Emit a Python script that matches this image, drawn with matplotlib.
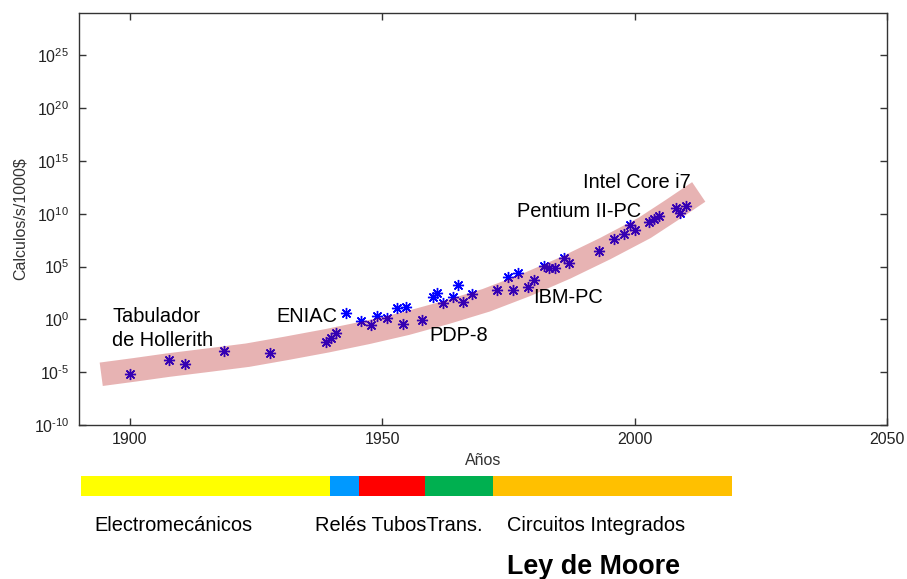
"""Ley de Moore: calculos por segundo por 1000$ a lo largo del tiempo."""

import matplotlib
matplotlib.use("Agg")
import matplotlib.pyplot as plt
import numpy as np

plt.rcParams["font.family"] = ["Liberation Sans", "DejaVu Sans"]
plt.rcParams["mathtext.fontset"] = "custom"
plt.rcParams["mathtext.rm"] = "Liberation Sans"
plt.rcParams["mathtext.it"] = "Liberation Sans:italic"

# machines: year and log10(calculos/s/1000$)
years = [1900, 1907.8, 1910.9, 1918.8, 1927.8, 1938.9, 1939.8, 1940.9, 1942.9,
         1945.8, 1947.9, 1949, 1950.9, 1952.9, 1954.1, 1954.8, 1958, 1960,
         1960.8, 1962, 1964, 1965, 1966, 1967.9, 1972.8, 1974.9, 1976, 1976.9,
         1978.9, 1980, 1982, 1983, 1984.2, 1986.1, 1987, 1993, 1995.9, 1997.9,
         1999.1, 2000.1, 2002.8, 2003.8, 2004.9, 2008.1, 2009, 2010.1]
log_calc = [-5.2, -3.86, -4.24, -3.0, -3.2, -2.1, -1.8, -1.3, 0.6,
            -0.14, -0.5, 0.27, 0.11, 1.1, -0.45, 1.2, -0.1, 2.16,
            2.48, 1.5, 2.16, 3.26, 1.66, 2.38, 2.8, 4.0, 2.8, 4.37,
            3.05, 3.7, 5.06, 4.84, 4.84, 5.82, 5.35, 6.48, 7.64, 8.12,
            8.91, 8.5, 9.25, 9.48, 9.82, 10.5, 10.07, 10.74]

# trend band read along its centre
trend_years = [1894.4, 1901.0, 1907.7, 1915.5, 1923.4, 1931.0, 1939.1, 1947.0,
               1954.8, 1962.7, 1970.6, 1978.5, 1986.3, 1994.2, 2002.0, 2007.4, 2012.7]
trend_log = [-5.2, -4.78, -4.33, -3.87, -3.39, -2.75, -2.03, -1.25,
             -0.39, 0.65, 1.8, 3.25, 4.87, 6.7, 8.66, 10.35, 12.06]

# labels: text, year, log10 of baseline
labels = [("Intel Core i7", 1989.7, 12.47),
          ("Pentium II-PC", 1976.7, 9.70),
          ("IBM-PC", 1980.0, 1.56),
          ("PDP-8", 1959.4, -2.03),
          ("ENIAC", 1929.0, -0.21),
          ("Tabulador", 1896.6, -0.21),
          ("de Hollerith", 1896.6, -2.57)]

# technology eras
era_edges = [1890.4, 1939.6, 1945.4, 1958.6, 1971.9, 2019.3]
era_colors = ["#ffff00", "#0099ff", "#ff0000", "#00b050", "#ffc000"]

y_exps = [-10, -5, 0, 5, 10, 15, 20, 25]
x_ticks = [1900, 1950, 2000, 2050]


def exp_label(e):
    s = str(e).replace("-", "\u2010")
    return f"$10^{{{s}}}$"


def main():
    fig = plt.figure(figsize=(9.07, 5.79), dpi=100)
    ax = fig.add_axes([0.0871, 0.266, 0.891, 0.7116])

    ax.plot(years, 10.0 ** np.array(log_calc), linestyle="none", marker=(8, 2, 0),
            ms=8, mew=1, color="#0000ff", zorder=2)
    ax.plot(trend_years, 10.0 ** np.array(trend_log), color="#b20505", alpha=0.3,
            lw=17, solid_capstyle="butt", solid_joinstyle="round", zorder=3)

    for txt, yr, lg in labels:
        ax.text(yr, 10.0 ** lg, txt, fontsize=14.4, va="baseline", ha="left",
                color="black", zorder=4)

    ax.set_yscale("log")
    ax.set_xlim(1890, 2050)
    ax.set_ylim(1e-10, 1e29)
    ax.set_xticks(x_ticks)
    ax.set_yticks([10.0 ** e for e in y_exps])
    ax.set_yticklabels([exp_label(e) for e in y_exps])
    ax.minorticks_off()
    ax.tick_params(direction="in", length=5, width=1, color="#333333",
                   top=True, right=True, labelsize=11.5, labelcolor="#222222")
    ax.tick_params(axis="x", pad=5)
    ax.tick_params(axis="y", pad=7)
    for s in ax.spines.values():
        s.set_color("#333333")
        s.set_linewidth(1)

    ax.set_xlabel("Años", fontsize=11.5, color="#333333")
    ax.xaxis.set_label_coords(0.5, -0.068)
    ax.set_ylabel("Calculos/s/1000$", fontsize=11.5, color="#333333")
    ax.yaxis.set_label_coords(-0.064, 0.5)

    # era bar
    bar = fig.add_axes([0.0871, 0.1434, 0.891, 0.0345])
    for i, c in enumerate(era_colors):
        bar.barh(0, era_edges[i + 1] - era_edges[i], left=era_edges[i],
                 height=1, color=c, edgecolor="none")
    bar.set_xlim(1890, 2050)
    bar.set_ylim(-0.5, 0.5)
    bar.axis("off")

    fig.text(94.3 / 907, 0.083, "Electromecánicos", fontsize=14.4, va="baseline")
    fig.text(315 / 907, 0.083, "Relés TubosTrans.", fontsize=14.4, va="baseline")
    fig.text(506.6 / 907, 0.083, "Circuitos Integrados", fontsize=14.4, va="baseline")
    fig.text(506.6 / 907, 0.0086, "Ley de Moore", fontsize=19.4, fontweight="bold",
             va="baseline")

    fig.savefig("out.png", dpi=100)


if __name__ == "__main__":
    main()
